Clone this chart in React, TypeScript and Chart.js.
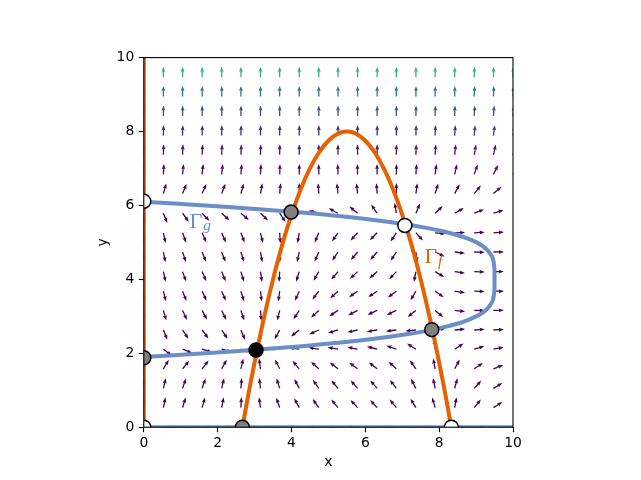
import React, { useEffect, useRef } from "react";
import { Chart, registerables } from "chart.js";

Chart.register(...registerables);

// ---- axes ----
const xTicks = [0, 2, 4, 6, 8, 10];
const yTicks = [0, 2, 4, 6, 8, 10];

// ---- quiver grid (20 x 20) ----
const gridX = [0, 0.53, 1.05, 1.58, 2.11, 2.63, 3.16, 3.68, 4.21, 4.74, 5.26, 5.79, 6.32, 6.84, 7.37, 7.89, 8.42, 8.95, 9.47, 10];
const gridY = [0, 0.53, 1.05, 1.58, 2.11, 2.63, 3.16, 3.68, 4.21, 4.74, 5.26, 5.79, 6.32, 6.84, 7.37, 7.89, 8.42, 8.95, 9.47, 10];

// ---- nullcline Γ_f (orange): x = 0 and the hump ----
const gammaFX = [2.6, 2.8, 3.0, 3.25, 3.5, 3.75, 4.0, 4.25, 4.5, 4.75, 5.0, 5.25, 5.5, 5.75, 6.0, 6.25, 6.5, 6.75, 7.0, 7.25, 7.5, 7.75, 8.0, 8.2, 8.4];
const gammaFY = [-0.41, 0.71, 1.75, 2.94, 4.0, 4.94, 5.75, 6.44, 7.0, 7.44, 7.75, 7.94, 8.0, 7.94, 7.75, 7.44, 7.0, 6.44, 5.75, 4.94, 4.0, 2.94, 1.75, 0.71, -0.41];
const gammaFAxisX = [0, 0];
const gammaFAxisY = [0, 10];

// ---- nullcline Γ_g (blue): y = 0 and the S-shaped curve ----
const gammaGX = [-0.03, 1.66, 3.11, 4.36, 5.41, 6.29, 7.02, 7.62, 8.1, 8.48, 8.78, 9.01, 9.18, 9.3, 9.38, 9.44, 9.47, 9.496, 9.5, 9.496, 9.47, 9.44, 9.38, 9.3, 9.18, 9.01, 8.78, 8.48, 8.1, 7.62, 7.02, 6.29, 5.41, 4.36, 3.11, 1.66, -0.03];
const gammaGY = [6.1, 6.0, 5.9, 5.8, 5.7, 5.6, 5.5, 5.4, 5.3, 5.2, 5.1, 5.0, 4.9, 4.8, 4.7, 4.6, 4.5, 4.3, 4.0, 3.7, 3.5, 3.4, 3.3, 3.2, 3.1, 3.0, 2.9, 2.8, 2.7, 2.6, 2.5, 2.4, 2.3, 2.2, 2.1, 2.0, 1.9];
const gammaGAxisX = [0, 10];
const gammaGAxisY = [0, 0];

// ---- equilibria ----
const blackX = [3.04];
const blackY = [2.09];
const greyX = [0, 2.67, 3.99, 7.8];
const greyY = [1.88, 0, 5.82, 2.64];
const whiteX = [0, 0, 8.33, 7.07];
const whiteY = [0, 6.11, 0, 5.46];

// ---- vector field parameters (read from the nullclines) ----
const fPeakX = 5.5;
const fPeakY = 8;
const fCurv = 1.0;
const gTipX = 9.5;
const gMidY = 4.0;
const gCoef = 0.49;
const gRate = 1.3;

// ---- colours ----
const orange = "#e66101";
const blue = "#6c8ec8";
const viridis = ["#440154", "#482475", "#414487", "#355f8d", "#2a788e", "#21918c", "#22a884", "#44bf70", "#7ad151", "#bddf26", "#fde725"];

const hexToRgb = (h: string) => [parseInt(h.slice(1, 3), 16), parseInt(h.slice(3, 5), 16), parseInt(h.slice(5, 7), 16)];
const viridisAt = (t: number) => {
  const c = Math.max(0, Math.min(1, t)) * (viridis.length - 1);
  const i = Math.min(viridis.length - 2, Math.floor(c));
  const f = c - i;
  const a = hexToRgb(viridis[i]);
  const b = hexToRgb(viridis[i + 1]);
  return `rgb(${Math.round(a[0] + (b[0] - a[0]) * f)},${Math.round(a[1] + (b[1] - a[1]) * f)},${Math.round(a[2] + (b[2] - a[2]) * f)})`;
};

const fieldU = (x: number, y: number) => x * (y - (fPeakY - fCurv * (x - fPeakX) ** 2));
const fieldV = (x: number, y: number) => gRate * y * (x - (gTipX - gCoef * (y - gMidY) ** 4));

const pts = (xs: number[], ys: number[]) => xs.map((x, i) => ({ x, y: ys[i] }));

const quiverPlugin = {
  id: "quiver",
  beforeDatasetsDraw(chart: any) {
    const { ctx, chartArea, scales } = chart;
    const sx = scales.x;
    const sy = scales.y;
    const kx = sx.getPixelForValue(1) - sx.getPixelForValue(0);
    const ky = sy.getPixelForValue(1) - sy.getPixelForValue(0);
    const vecs: { x: number; y: number; u: number; v: number; m: number }[] = [];
    let maxM = 0;
    for (const gx of gridX) {
      for (const gy of gridY) {
        const u = fieldU(gx, gy);
        const v = fieldV(gx, gy);
        const m = Math.hypot(u, v);
        vecs.push({ x: gx, y: gy, u, v, m });
        if (m > maxM) maxM = m;
      }
    }
    ctx.save();
    ctx.beginPath();
    ctx.rect(chartArea.left, chartArea.top, chartArea.right - chartArea.left, chartArea.bottom - chartArea.top);
    ctx.clip();
    const len = 10.5;
    const w = 1.3;
    const hl = 5.2;
    const hal = 4.6;
    const hw = 3.9;
    for (const p of vecs) {
      if (p.m === 0) continue;
      const px = sx.getPixelForValue(p.x);
      const py = sy.getPixelForValue(p.y);
      const ang = Math.atan2(p.v * ky, p.u * kx);
      ctx.save();
      ctx.translate(px, py);
      ctx.rotate(ang);
      ctx.fillStyle = viridisAt(p.m / maxM);
      ctx.beginPath();
      ctx.moveTo(0, -w / 2);
      ctx.lineTo(len - hal, -w / 2);
      ctx.lineTo(len - hl, -hw / 2);
      ctx.lineTo(len, 0);
      ctx.lineTo(len - hl, hw / 2);
      ctx.lineTo(len - hal, w / 2);
      ctx.lineTo(0, w / 2);
      ctx.closePath();
      ctx.fill();
      ctx.restore();
    }
    ctx.restore();
  },
  afterDatasetsDraw(chart: any) {
    const { ctx, chartArea, scales } = chart;
    const sx = scales.x;
    const sy = scales.y;
    ctx.save();
    // frame
    ctx.strokeStyle = "#000";
    ctx.lineWidth = 1.1;
    ctx.strokeRect(chartArea.left, chartArea.top, chartArea.right - chartArea.left, chartArea.bottom - chartArea.top);
    // curve labels
    const label = (main: string, sub: string, x: number, y: number, color: string) => {
      const px = sx.getPixelForValue(x);
      const py = sy.getPixelForValue(y);
      ctx.fillStyle = color;
      ctx.textBaseline = "alphabetic";
      ctx.textAlign = "left";
      ctx.font = "22px 'Liberation Serif'";
      ctx.fillText(main, px, py);
      const wMain = ctx.measureText(main).width;
      ctx.font = "italic 15.5px 'Liberation Serif'";
      ctx.fillText(sub, px + wMain + 1, py + 2.5);
    };
    label("Γ", "g", 1.24, 5.39, blue);
    label("Γ", "f", 7.6, 4.44, orange);
    // axis titles
    ctx.fillStyle = "#000";
    ctx.font = "13.9px 'DejaVu Sans'";
    ctx.textAlign = "center";
    ctx.textBaseline = "alphabetic";
    const cx = (chartArea.left + chartArea.right) / 2;
    const cy = (chartArea.top + chartArea.bottom) / 2;
    ctx.fillText("x", cx, 465.8);
    ctx.save();
    ctx.translate(107, cy);
    ctx.rotate(-Math.PI / 2);
    ctx.fillText("y", 0, 0);
    ctx.restore();
    ctx.restore();
  },
};

const tickFont = { family: "'DejaVu Sans'", size: 13.9 };

export default function App() {
  const ref = useRef<HTMLCanvasElement>(null);
  useEffect(() => {
    const marker = (xs: number[], ys: number[], fill: string) => ({
      type: "scatter",
      data: pts(xs, ys),
      pointRadius: 7,
      pointHoverRadius: 7,
      pointBackgroundColor: fill,
      pointBorderColor: "#000",
      pointBorderWidth: 1.5,
      showLine: false,
      clip: 0,
      order: 0,
    });
    const line = (xs: number[], ys: number[], color: string, order: number) => ({
      type: "scatter",
      data: pts(xs, ys),
      showLine: true,
      borderColor: color,
      backgroundColor: color,
      borderWidth: 4,
      pointRadius: 0,
      pointHoverRadius: 0,
      tension: 0.3,
      fill: false,
      clip: 0,
      order,
    });
    const chart = new Chart(ref.current!, {
      type: "scatter",
      data: {
        datasets: [
          marker(blackX, blackY, "#000000"),
          marker(greyX, greyY, "#808080"),
          marker(whiteX, whiteY, "#ffffff"),
          line(gammaFX, gammaFY, orange, 1),
          line(gammaFAxisX, gammaFAxisY, orange, 1),
          line(gammaGX, gammaGY, blue, 2),
          line(gammaGAxisX, gammaGAxisY, blue, 2),
        ] as any,
      },
      options: {
        animation: false,
        responsive: false,
        devicePixelRatio: 1,
        events: [],
        layout: { padding: { left: 0, top: 57.6, right: 128, bottom: 0 } },
        plugins: { legend: { display: false }, tooltip: { enabled: false } },
        scales: {
          x: {
            type: "linear",
            position: "bottom",
            min: 0,
            max: 10,
            afterBuildTicks: (s: any) => {
              s.ticks = xTicks.map((v) => ({ value: v }));
            },
            afterFit: (s: any) => {
              s.height = 52.8;
            },
            grid: { display: true, drawOnChartArea: false, drawTicks: true, tickLength: 5, tickColor: "#000", tickWidth: 1.1, color: "#000" },
            border: { display: false },
            ticks: { color: "#000", font: tickFont, padding: 3, maxRotation: 0, autoSkip: false },
          },
          y: {
            type: "linear",
            position: "left",
            min: 0,
            max: 10,
            afterBuildTicks: (s: any) => {
              s.ticks = yTicks.map((v) => ({ value: v }));
            },
            afterFit: (s: any) => {
              s.width = 143.8;
            },
            grid: { display: true, drawOnChartArea: false, drawTicks: true, tickLength: 5, tickColor: "#000", tickWidth: 1.1, color: "#000" },
            border: { display: false },
            ticks: { color: "#000", font: tickFont, padding: 4.5, autoSkip: false },
          },
        },
      },
      plugins: [quiverPlugin],
    } as any);
    return () => chart.destroy();
  }, []);
  return (
    <div style={{ position: "absolute", left: 0, top: 0, width: 641, height: 480, background: "#fff" }}>
      <canvas ref={ref} width={641} height={480} style={{ display: "block", width: 641, height: 480 }} />
    </div>
  );
}
